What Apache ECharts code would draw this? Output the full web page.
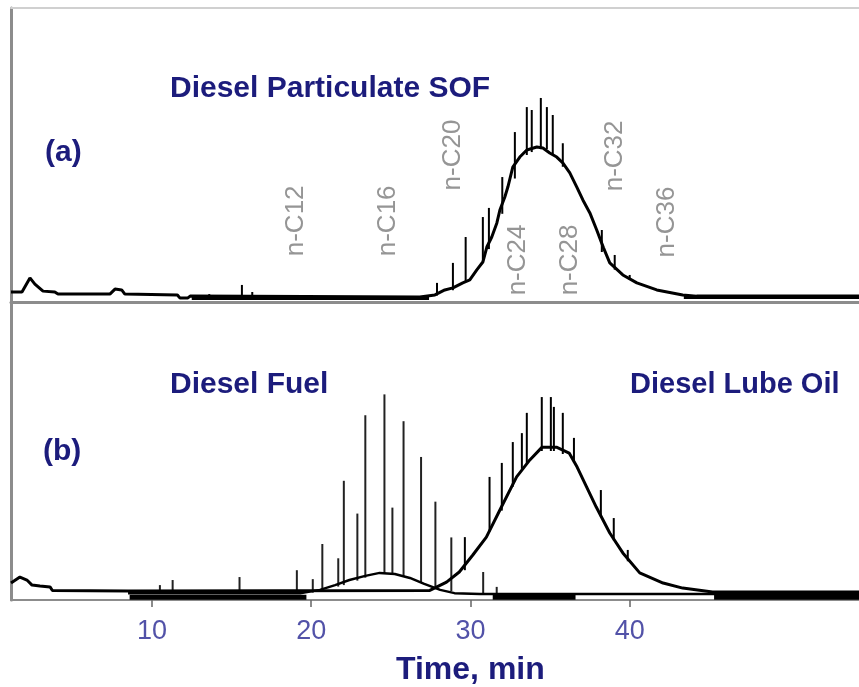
<!DOCTYPE html>
<html>
<head>
<meta charset="utf-8">
<script src="https://cdn.jsdelivr.net/npm/echarts@6/dist/echarts.min.js"></script>
<style>
  html, body { margin: 0; padding: 0; background: #fff; }
  #chart { width: 859px; height: 687px; }
</style>
</head>
<body>
<div id="chart"></div>
<script>
// time axis (min)
const timeTicks = [10, 20, 30, 40];

// panel (a) diesel particulate SOF trace: [time, signal]
const sofTrace = [
  [1.15, 3.4], [1.84, 3.4], [2.34, 8.2], [2.65, 6.1], [3.16, 3.7], [3.9, 3.4], [4.1, 2.7],
  [7.36, 2.7], [7.68, 4.4], [8.1, 4.1], [8.3, 2.7], [11.6, 2.4], [11.75, 1.4], [12.26, 1.4],
  [12.4, 2.0], [12.5, 1.7], [26.82, 1.7], [27.77, 2.4], [28.39, 4.1], [28.9, 4.8], [29.52, 6.5],
  [29.96, 7.5], [30.4, 10.9], [30.78, 13.6], [31.03, 18.7], [31.34, 22.1], [31.66, 26.9],
  [31.85, 31.3], [32.16, 35.7], [32.35, 39.1], [32.66, 45.9], [33.1, 49.3], [33.54, 51.7],
  [34.17, 52.7], [34.55, 52.4], [34.98, 50.7], [35.42, 49.3], [35.8, 47.3], [36.24, 43.9],
  [36.68, 39.1], [37.06, 34.7], [37.5, 30.3], [37.93, 24.5], [38.35, 18.5], [38.75, 13.3],
  [39.57, 9.2], [40.45, 6.5], [41.7, 4.1], [43.33, 2.4], [44.2, 2.0], [55.0, 2.0]
];
// spikes: [time, base, top]
const sofSpikes = [
  [13.6, 1.7, 2.7], [15.65, 1.7, 5.8], [16.3, 1.7, 3.4], [27.9, 2.2, 6.5], [28.9, 4.0, 13.3],
  [29.7, 7.0, 22.1], [30.78, 14.0, 28.9], [31.16, 18.0, 32.0], [32.0, 30.0, 42.5],
  [32.79, 42.0, 57.8], [33.54, 50.0, 66.3], [33.85, 51.0, 65.3], [34.42, 52.0, 69.4],
  [34.8, 52.0, 66.3], [35.17, 50.0, 63.6], [35.8, 46.0, 54.0], [38.25, 17.0, 24.5],
  [39.06, 11.0, 16.0], [40.0, 7.5, 9.2]
];
// thick baseline segments: [from, to, level]
const sofBands = [[12.5, 27.4, 1.3], [43.4, 55.0, 1.6]];

// carbon number markers over panel (a)
const markerNames = ['n-C12', 'n-C16', 'n-C20', 'n-C24', 'n-C28', 'n-C32', 'n-C36'];
const markerTimes = [19.04, 24.8, 28.9, 32.98, 36.24, 39.06, 42.33];
const markerLevels = [27.6, 27.6, 50.0, 14.3, 14.3, 49.7, 27.2];

// panel (b) diesel lube oil trace
const lubeTrace = [
  [1.15, 5.7], [1.71, 7.7], [2.15, 6.7], [2.47, 5.0], [2.97, 4.7], [3.6, 4.4], [3.75, 3.2],
  [8.5, 3.0], [27.45, 3.2], [28.5, 6.0], [29.3, 9.4], [30.15, 15.1], [31.0, 21.1],
  [31.85, 30.2], [32.9, 41.3], [33.73, 47.0], [34.5, 51.3], [35.4, 51.3], [36.2, 49.3],
  [36.7, 44.6], [37.3, 37.9], [37.9, 31.2], [38.75, 22.5], [39.57, 15.8], [40.63, 9.1],
  [42.1, 5.7], [43.33, 4.0], [45.2, 2.7], [55.0, 2.7]
];
const lubeSpikes = [
  [29.65, 10.0, 21.1], [31.2, 23.0, 41.3], [31.97, 30.0, 46.0], [32.66, 38.0, 53.0],
  [33.23, 44.0, 56.0], [33.54, 46.0, 62.8], [34.48, 50.0, 68.1], [35.05, 50.0, 68.1],
  [35.24, 50.0, 64.8], [35.8, 49.0, 62.8], [36.5, 46.0, 54.4], [38.19, 28.0, 36.9],
  [39.0, 20.0, 27.5], [39.88, 13.0, 16.8]
];

// panel (b) diesel fuel trace
const fuelTrace = [
  [8.5, 2.3], [19.3, 2.3], [20.55, 3.4], [21.5, 5.0], [22.4, 6.7], [23.4, 8.1], [24.3, 9.1],
  [25.25, 8.7], [26.2, 7.4], [27.1, 5.4], [28.1, 3.4], [29.0, 2.3], [30.6, 2.0], [55.0, 2.0]
];
const fuelSpikes = [
  [10.5, 2.3, 5.0], [11.3, 2.3, 6.7], [15.5, 2.3, 7.7], [19.1, 2.3, 10.0], [20.1, 2.5, 7.0],
  [20.7, 3.3, 18.8], [21.7, 4.5, 14.0], [22.05, 5.0, 40.0], [22.9, 6.5, 29.0],
  [23.4, 7.5, 62.0], [24.6, 9.0, 69.0], [25.1, 9.0, 31.0], [25.8, 8.0, 60.0],
  [26.9, 6.0, 48.0], [27.8, 4.5, 33.0], [28.8, 3.0, 21.0], [30.8, 2.3, 9.4], [31.65, 2.3, 4.4]
];
const fuelBands = [[8.6, 19.7, 0.9], [31.4, 36.6, 0.9], [45.3, 55.0, 0.9]];

const chart = echarts.init(document.getElementById('chart'));

const FONT = 'Liberation Sans';
const NAVY = '#1c1c7c';
const T_MIN = 1.15, T_MAX = 54.4;

function spikeSeries(data, idx, color, width) {
  return {
    type: 'custom', xAxisIndex: idx, yAxisIndex: idx, data: data,
    encode: { x: 0, y: [1, 2] }, silent: true, clip: true,
    renderItem: (params, api) => {
      const p0 = api.coord([api.value(0), api.value(1)]);
      const p1 = api.coord([api.value(0), api.value(2)]);
      return { type: 'line', shape: { x1: p0[0], y1: p0[1], x2: p1[0], y2: p1[1] },
               style: { stroke: color, lineWidth: width } };
    }
  };
}

function bandSeries(data, idx, width) {
  return {
    type: 'custom', xAxisIndex: idx, yAxisIndex: idx, data: data,
    encode: { x: [0, 1], y: 2 }, silent: true, clip: true,
    renderItem: (params, api) => {
      const p0 = api.coord([api.value(0), api.value(2)]);
      const p1 = api.coord([api.value(1), api.value(2)]);
      return { type: 'line', shape: { x1: p0[0], y1: p0[1], x2: p1[0], y2: p1[1] },
               style: { stroke: '#000', lineWidth: width } };
    }
  };
}

function traceSeries(data, idx, width) {
  return {
    type: 'line', xAxisIndex: idx, yAxisIndex: idx, data: data,
    showSymbol: false, silent: true, animation: false,
    lineStyle: { color: '#000', width: width }
  };
}

const option = {
  animation: false,
  grid: [
    { left: 11, right: 0, top: 8, height: 294 },
    { left: 11, right: 0, top: 302, bottom: 87 }
  ],
  xAxis: [
    { type: 'value', gridIndex: 0, min: T_MIN, max: T_MAX,
      axisLine: { lineStyle: { color: '#8c8c8c', width: 3 } },
      axisTick: { show: false }, axisLabel: { show: false }, splitLine: { show: false } },
    { type: 'value', gridIndex: 1, min: T_MIN, max: T_MAX,
      axisLine: { lineStyle: { color: '#8c8c8c', width: 2 } },
      axisTick: { show: true, customValues: timeTicks, length: 7, lineStyle: { color: '#666', width: 1.5 } },
      axisLabel: { customValues: timeTicks, color: '#5252a8', fontSize: 27, fontFamily: FONT, margin: 18 },
      splitLine: { show: false } },
    // top frame line of panel (a)
    { type: 'value', gridIndex: 0, position: 'top', min: T_MIN, max: T_MAX,
      axisLine: { lineStyle: { color: '#d0d0d0', width: 2 } },
      axisTick: { show: false }, axisLabel: { show: false }, splitLine: { show: false } }
  ],
  yAxis: [
    { type: 'value', gridIndex: 0, min: 0, max: 100,
      axisLine: { show: true, lineStyle: { color: '#8c8c8c', width: 3 } },
      axisTick: { show: false }, axisLabel: { show: false }, splitLine: { show: false } },
    { type: 'value', gridIndex: 1, min: 0, max: 100,
      axisLine: { show: true, lineStyle: { color: '#8c8c8c', width: 3 } },
      axisTick: { show: false }, axisLabel: { show: false }, splitLine: { show: false } }
  ],
  series: [
    bandSeries(sofBands, 0, 3.5),
    traceSeries(sofTrace, 0, 3),
    spikeSeries(sofSpikes, 0, '#000', 2),
    {
      type: 'scatter', xAxisIndex: 0, yAxisIndex: 0, symbolSize: 0, silent: true,
      data: markerNames.map((n, i) => ({ name: n, value: [markerTimes[i], markerLevels[i]] })),
      label: { show: true, position: 'inside', rotate: 90, formatter: '{b}',
               color: '#7a7a7a', fontSize: 26, fontFamily: FONT }
    },
    bandSeries(fuelBands, 1, 5),
    traceSeries(fuelTrace, 1, 2.5),
    spikeSeries(fuelSpikes, 1, '#222', 2),
    traceSeries(lubeTrace, 1, 3),
    spikeSeries(lubeSpikes, 1, '#000', 2)
  ],
  graphic: [
    { type: 'text', left: 170, top: 74, style: { text: 'Diesel Particulate SOF', fill: NAVY,
      font: 'bold 30px "Liberation Sans"', verticalAlign: 'middle' } },
    { type: 'text', left: 45, top: 138, style: { text: '(a)', fill: NAVY,
      font: 'bold 30px "Liberation Sans"' } },
    { type: 'text', left: 170, top: 370, style: { text: 'Diesel Fuel', fill: NAVY,
      font: 'bold 30px "Liberation Sans"' } },
    { type: 'text', left: 43, top: 437, style: { text: '(b)', fill: NAVY,
      font: 'bold 30px "Liberation Sans"' } },
    { type: 'text', left: 630, top: 370, style: { text: 'Diesel Lube Oil', fill: NAVY,
      font: 'bold 29px "Liberation Sans"' } },
    { type: 'text', left: 396, top: 654, style: { text: 'Time, min', fill: NAVY,
      font: 'bold 32px "Liberation Sans"' } }
  ]
};

chart.setOption(option);
</script>
</body>
</html>
